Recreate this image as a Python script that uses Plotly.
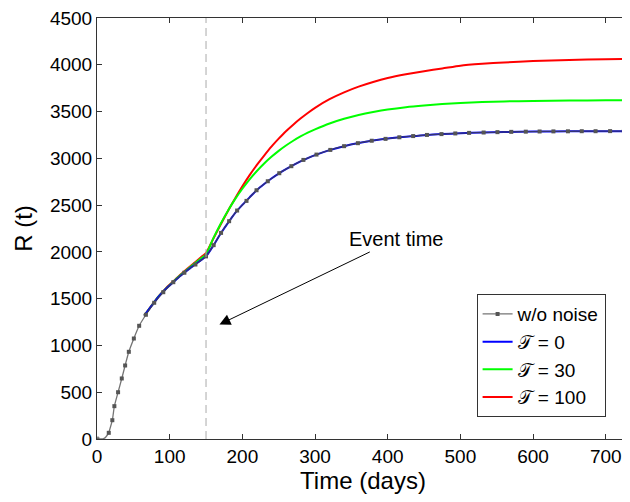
import plotly.graph_objects as go

# w/o noise (deterministic) curve, marker points
t_base = [16.2, 21.1, 23.9, 29, 34.1, 38.7, 43.8, 50.7, 58, 67.3, 78.7, 91.2, 105,
          120.2, 135.4, 150, 160.5, 170.7, 181.8, 192.8, 205.7, 219.5, 235, 250.8,
          267.4, 284, 302, 321, 340, 359, 378, 397, 416, 435, 454, 474, 493, 512,
          532, 551, 570, 590, 609, 628, 648, 667, 686, 706, 725]
r_base = [66, 201, 351, 500, 647, 786, 932, 1074, 1210, 1328, 1456, 1569, 1676,
          1777, 1865, 1952, 2072, 2203, 2328, 2442, 2545, 2659, 2755, 2841,
          2916, 2983, 3040, 3090, 3130, 3162, 3188, 3208, 3225, 3238, 3250, 3259,
          3266, 3272, 3276, 3280, 3283, 3285, 3287, 3288, 3289, 3290, 3290, 3291, 3291]

# start of the deterministic curve (before first marker)
t_start = [0, 5, 8, 11, 14, 16.2]
r_start = [0, 0, 2, 12, 40, 66]

# noisy runs
t_run = [65, 75, 85, 95, 105, 115, 125, 135, 145, 150, 160, 170, 180, 190, 200,
         210, 220, 230, 240, 250, 260, 270, 280, 290, 300, 320, 340, 360, 380,
         400, 425, 450, 475, 500, 530, 560, 600, 650, 700, 730]
r_tau0 = [1318, 1422, 1523, 1606, 1676, 1745, 1808, 1865, 1922, 1952, 2066, 2194,
          2308, 2415, 2502, 2583, 2662, 2726, 2785, 2837, 2884, 2928, 2967, 3003,
          3034, 3088, 3130, 3163, 3190, 3211, 3231, 3248, 3259, 3268, 3276, 3281,
          3286, 3289, 3290, 3291]
r_tau30 = [1318, 1424, 1526, 1610, 1682, 1753, 1818, 1880, 1942, 1972, 2144, 2299,
           2438, 2564, 2675, 2776, 2865, 2945, 3016, 3080, 3137, 3188, 3234, 3275,
           3310, 3373, 3423, 3463, 3495, 3522, 3547, 3565, 3580, 3592, 3601, 3608,
           3614, 3618, 3620, 3621]
r_tau100 = [1318, 1425, 1528, 1613, 1686, 1758, 1825, 1890, 1955, 1987, 2140, 2290,
            2435, 2570, 2700, 2820, 2930, 3030, 3125, 3210, 3290, 3360, 3425, 3485,
            3540, 3632, 3705, 3766, 3816, 3858, 3898, 3932, 3960, 3990, 4010, 4025,
            4040, 4052, 4058, 4062]

EVENT_T = 150
FONT = "Liberation Sans, Arial, sans-serif"

fig = go.Figure()

smooth = dict(shape="spline", smoothing=0.6)
fig.add_trace(go.Scatter(x=t_run, y=r_tau100, mode="lines", name="𝒯 = 100",
                         line=dict(color="#ff0000", width=2, **smooth), legendrank=4))
fig.add_trace(go.Scatter(x=t_run, y=r_tau30, mode="lines", name="𝒯 = 30",
                         line=dict(color="#00ff00", width=2, **smooth), legendrank=3))
fig.add_trace(go.Scatter(x=t_run, y=r_tau0, mode="lines", name="𝒯 = 0",
                         line=dict(color="#0000ff", width=2, **smooth), legendrank=2))
fig.add_trace(go.Scatter(x=t_start, y=r_start, mode="lines+markers", showlegend=False,
                         line=dict(color="rgba(70,70,70,0.75)", width=1.3, **smooth),
                         marker=dict(symbol="square", size=[4, 0, 0, 0, 0, 0],
                                     color="#555555")))
fig.add_trace(go.Scatter(x=t_base, y=r_base, mode="lines+markers", name="w/o noise",
                         line=dict(color="rgba(70,70,70,0.75)", width=1.3, **smooth),
                         marker=dict(symbol="square", size=4, color="#555555"),
                         legendrank=1))

# event time marker
fig.add_shape(type="line", x0=EVENT_T, x1=EVENT_T, y0=0, y1=1, yref="y domain",
              line=dict(color="#aaaaaa", width=1, dash="8px,5px"))

fig.add_annotation(x=168.5, y=1224, ax=411, ay=2133, axref="x", ayref="y",
                   text="Event time", showarrow=True, arrowhead=2, arrowsize=2.2,
                   arrowwidth=1, arrowcolor="black",
                   font=dict(family=FONT, size=20, color="black"))

axis_common = dict(showline=True, linecolor="#333333", linewidth=1, mirror="ticks",
                   ticks="inside", ticklen=5, tickcolor="#333333", showgrid=False,
                   zeroline=False, ticklabeloverflow="allow",
                   tickfont=dict(family=FONT, size=19, color="black"))

fig.update_xaxes(range=[0, 732], tickvals=[0, 100, 200, 300, 400, 500, 600, 700],
                 title=dict(text="Time (days)", font=dict(family=FONT, size=24, color="black"),
                            standoff=6),
                 **axis_common)
fig.update_yaxes(range=[0, 4500], dtick=500,
                 title=dict(text="R (t)", font=dict(family=FONT, size=24, color="black"),
                            standoff=10),
                 **axis_common)

# page body has an 8px margin, so the figure is a bit smaller than the window
fig.update_layout(
    width=622, height=494,
    margin=dict(l=89, r=1, t=10, b=63),
    plot_bgcolor="white", paper_bgcolor="white",
    font=dict(family=FONT, color="black"),
    legend=dict(x=0.956, y=0.052, xanchor="right", yanchor="bottom",
                bgcolor="white", bordercolor="#333333", borderwidth=1,
                font=dict(family=FONT, size=19, color="black"),
                tracegroupgap=0),
)

fig.write_html("out.html")
